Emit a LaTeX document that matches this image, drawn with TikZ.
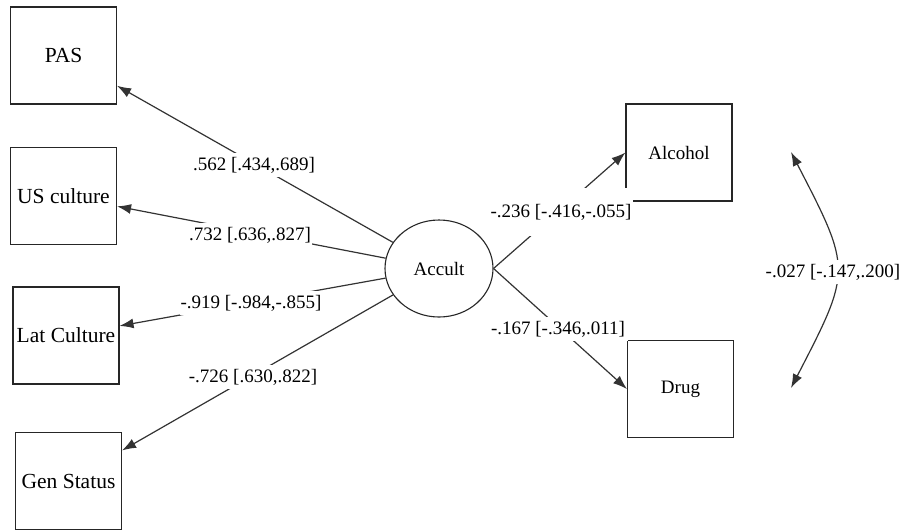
\documentclass[tikz,border=0pt]{standalone}
\usepackage{fontspec}
\setmainfont{Liberation Serif}
\usetikzlibrary{arrows.meta,shapes.geometric}
\begin{document}
\begin{tikzpicture}[x=1pt,y=-1pt,
  box/.style={draw=black!85, line width=1.1pt, minimum width=106pt, minimum height=97pt, inner sep=0pt},
  bigtxt/.style={font=\fontsize{21.5}{24}\selectfont},
  smalltxt/.style={font=\fontsize{19}{22}\selectfont},
  latent/.style={draw=black!85, ellipse, line width=1.1pt, minimum width=108pt, minimum height=97pt, inner sep=0pt, smalltxt},
  conn/.style={draw=black!80, line width=1.2pt, -{Latex[length=14pt,width=10pt]}},
  twoway/.style={draw=black!80, line width=1.2pt, {Latex[length=14pt,width=10pt]}-{Latex[length=14pt,width=10pt]}},
  lbl/.style={fill=white, inner xsep=1pt, inner ysep=4pt, smalltxt}
]
\useasboundingbox (0,0) rectangle (905,531);

\node[box, bigtxt] (pas) at (63.5,55.5) {PAS};
\node[box, bigtxt] (us) at (63.5,196) {US culture};
\node[box, bigtxt] (lat) at (66,335.5) {Lat Culture};
\node[box, bigtxt] (gen) at (68.5,481) {Gen Status};
\node[latent] (acc) at (439,268.5) {Accult};
\node[box, smalltxt] (alc) at (679,152.5) {Alcohol};
\node[box, smalltxt] (drug) at (680.5,389) {Drug};

\draw[conn] (acc) -- (pas);
\draw[conn] (acc) -- (us);
\draw[conn] (acc) -- (lat);
\draw[conn] (acc) -- (gen);
\draw[conn] (acc.east) -- (alc.west);
\draw[conn] (acc.east) -- (drug.west);

\coordinate (ct) at (791,152);
\coordinate (cb) at (791,388);
\draw[twoway] (ct) .. controls (852,270) .. (cb);

\node[lbl] (l1) at (254,165) {.562 [.434,.689]};
\node[lbl] (l2) at (250,235) {.732 [.636,.827]};
\node[lbl] (l3) at (251,303) {-.919 [-.984,-.855]};
\node[lbl] (l4) at (253,377) {-.726 [.630,.822]};
\node[lbl, minimum height=48pt, inner xsep=2pt] (l5) at (561,212) {-.236 [-.416,-.055]};
\node[lbl, inner xsep=3pt] (l6) at (558,329) {-.167 [-.346,.011]};
\node[lbl] (l7) at (833,272) {-.027 [-.147,.200]};
\end{tikzpicture}
\end{document}
